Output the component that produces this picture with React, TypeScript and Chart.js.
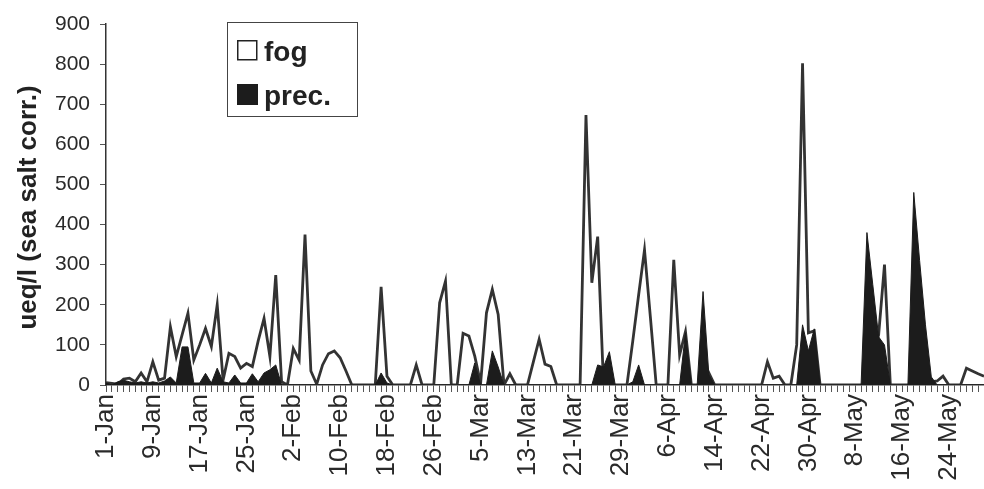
import React, { useEffect, useRef } from 'react';
import { Chart, registerables } from 'chart.js';

Chart.register(...registerables);

const FONT = '"Liberation Sans", Arial, sans-serif';

// Daily categories, 1-Jan .. 30-May (leap year)
const MONTHS = ['Jan', 'Feb', 'Mar', 'Apr', 'May'];
const MONTH_DAYS = [31, 29, 31, 30, 30];
const CATEGORIES: string[] = [];
MONTHS.forEach((m, k) => {
  for (let d = 1; d <= MONTH_DAYS[k]; d++) CATEGORIES.push(`${d}-${m}`);
});

const TICK_LABELS = [
  '1-Jan', '9-Jan', '17-Jan', '25-Jan', '2-Feb', '10-Feb', '18-Feb', '26-Feb',
  '5-Mar', '13-Mar', '21-Mar', '29-Mar', '6-Apr', '14-Apr', '22-Apr', '30-Apr',
  '8-May', '16-May', '24-May',
];

const Y_TICKS = [0, 100, 200, 300, 400, 500, 600, 700, 800, 900];

const FOG = [
  6, 4, 2, 15, 17, 8, 30, 8, 58, 12,
  17, 145, 71, 125, 179, 62, 100, 141, 96, 200,
  12, 79, 71, 42, 54, 46, 110, 166, 71, 274,
  8, 0, 91, 62, 375, 35, 2, 50, 78, 85,
  68, 35, 0, 0, 0, 0, 0, 245, 22, 0,
  0, 0, 0, 50, 0, 0, 0, 205, 259, 0,
  0, 129, 122, 72, 4, 180, 238, 176, 0, 28,
  0, 0, 0, 57, 114, 52, 46, 0, 0, 0,
  0, 0, 673, 255, 370, 0, 0, 0, 0, 0,
  110, 225, 337, 170, 0, 0, 0, 312, 75, 133,
  0, 0, 0, 30, 0, 0, 0, 0, 0, 0,
  0, 0, 0, 58, 17, 22, 0, 0, 100, 802,
  130, 135, 0, 0, 0, 0, 0, 0, 0, 0,
  0, 80, 125, 300, 0, 0, 0, 0, 0, 0,
  0, 8, 10, 22, 0, 0, 0, 42, 35, 28,
  22,
];

const PREC = [
  5, 0, 8, 12, 8, 5, 8, 5, 8, 5,
  10, 20, 5, 95, 95, 5, 5, 29, 5, 42,
  8, 5, 25, 5, 5, 28, 8, 30, 38, 50,
  0, 0, 0, 0, 0, 0, 0, 0, 0, 0,
  0, 0, 0, 0, 0, 0, 0, 30, 5, 0,
  0, 0, 0, 0, 0, 0, 0, 0, 0, 0,
  0, 0, 0, 55, 0, 0, 85, 45, 0, 0,
  0, 0, 0, 0, 0, 0, 0, 0, 0, 0,
  0, 0, 0, 0, 50, 45, 83, 0, 0, 0,
  8, 50, 0, 0, 0, 0, 0, 0, 0, 130,
  0, 0, 233, 25, 0, 0, 0, 0, 0, 0,
  0, 0, 0, 0, 0, 0, 0, 0, 0, 150,
  85, 140, 0, 0, 0, 0, 0, 0, 0, 0,
  380, 250, 120, 100, 0, 0, 0, 0, 480, 310,
  150, 20, 0, 0, 0, 0, 0, 0, 0, 0,
  0,
];

const Y_TITLE = 'ueq/l (sea salt corr.)';
const LEGEND_ITEMS = ['fog', 'prec.'];

const TICK_SET = new Set(TICK_LABELS);

const decorPlugin = {
  id: 'decor',
  afterDraw(chart: any) {
    const ctx = chart.ctx as CanvasRenderingContext2D;
    const area = chart.chartArea;
    // y axis title
    ctx.save();
    ctx.translate(29, (area.top + area.bottom) / 2 + 3);
    ctx.rotate(-Math.PI / 2);
    ctx.font = `bold 26px ${FONT}`;
    ctx.fillStyle = '#222';
    ctx.textAlign = 'center';
    ctx.textBaseline = 'middle';
    ctx.fillText(Y_TITLE, 0, 0);
    ctx.restore();

    // legend box
    ctx.save();
    ctx.fillStyle = '#fff';
    ctx.fillRect(228, 22, 130, 95);
    ctx.strokeStyle = '#444';
    ctx.lineWidth = 1;
    ctx.strokeRect(227.5, 22.5, 130, 94);
    // fog swatch
    ctx.lineWidth = 1.5;
    ctx.strokeStyle = '#222';
    ctx.strokeRect(237.75, 40.75, 19, 19);
    // prec swatch
    ctx.fillStyle = '#1c1c1c';
    ctx.fillRect(237, 84, 21, 21);
    ctx.font = `bold 28px ${FONT}`;
    ctx.fillStyle = '#222';
    ctx.textAlign = 'left';
    ctx.textBaseline = 'alphabetic';
    ctx.fillText(LEGEND_ITEMS[0], 264, 61);
    ctx.fillText(LEGEND_ITEMS[1], 264, 105);
    ctx.restore();
  },
};

export default function App() {
  const ref = useRef<HTMLCanvasElement | null>(null);

  useEffect(() => {
    if (!ref.current) return;
    Chart.defaults.font.family = FONT;
    const chart = new Chart(ref.current, {
      type: 'line',
      data: {
        labels: CATEGORIES,
        datasets: [
          {
            label: 'prec.',
            data: PREC,
            borderColor: '#1c1c1c',
            backgroundColor: '#1c1c1c',
            borderWidth: 1,
            fill: 'origin',
            pointRadius: 0,
            tension: 0,
          },
          {
            label: 'fog',
            data: FOG,
            borderColor: '#333',
            backgroundColor: 'rgba(0,0,0,0)',
            borderWidth: 2.8,
            fill: false,
            pointRadius: 0,
            tension: 0,
          },
        ],
      },
      options: {
        responsive: false,
        animation: false,
        devicePixelRatio: 1,
        layout: { padding: { top: 24, right: 0, bottom: 0, left: 0 } },
        plugins: {
          legend: { display: false },
          tooltip: { enabled: false },
        },
        scales: {
          x: {
            type: 'category',
            offset: false,
            grid: {
              display: true,
              drawOnChartArea: false,
              drawTicks: true,
              tickLength: 7,
              color: '#555',
              lineWidth: 1,
            },
            border: { display: true, color: '#333', width: 1.5 },
            ticks: {
              autoSkip: false,
              minRotation: 90,
              maxRotation: 90,
              padding: 2,
              color: '#2a2a2a',
              font: { size: 26, family: FONT },
              callback: (_v: any, i: number) => (TICK_SET.has(CATEGORIES[i]) ? CATEGORIES[i] : ''),
            },
            afterFit: (s: any) => {
              s.height = 104;
              s.paddingLeft = 0;
              s.paddingRight = 0;
            },
          },
          y: {
            min: 0,
            max: 900,
            afterBuildTicks: (s: any) => {
              s.ticks = Y_TICKS.map((v) => ({ value: v }));
            },
            grid: {
              display: true,
              drawOnChartArea: false,
              drawTicks: true,
              tickLength: 6,
              color: '#555',
            },
            border: { display: true, color: '#333', width: 1.5 },
            ticks: {
              padding: 10,
              color: '#2a2a2a',
              font: { size: 21, family: FONT },
            },
            afterFit: (s: any) => {
              s.width = 106;
              s.paddingTop = 0;
              s.paddingBottom = 0;
            },
          },
        },
      },
      plugins: [decorPlugin],
    } as any);
    return () => chart.destroy();
  }, []);

  return (
    <div style={{ position: 'fixed', left: 0, top: 0, width: 984, height: 489, background: '#fff' }}>
      <canvas ref={ref} width={984} height={489} style={{ display: 'block' }} />
    </div>
  );
}
